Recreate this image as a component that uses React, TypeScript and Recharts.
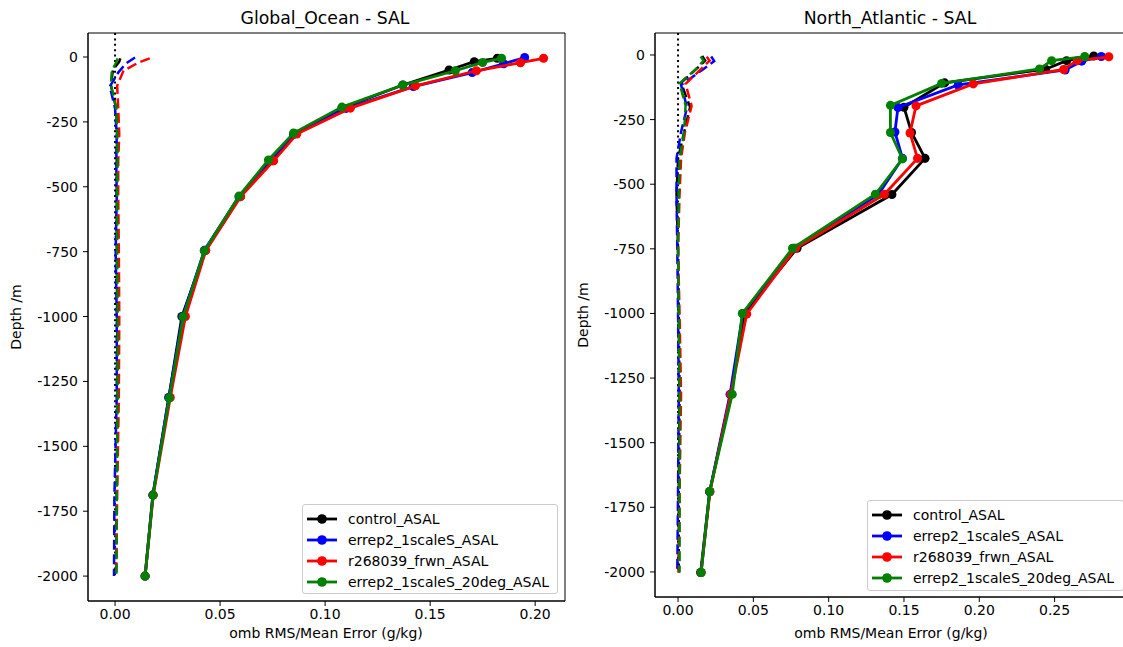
import React from 'react';
import { ScatterChart, Scatter, XAxis, YAxis, ZAxis, ReferenceLine, ReferenceArea } from 'recharts';

// ---------- labels ----------
const seriesNames = ['control_ASAL', 'errep2_1scaleS_ASAL', 'r268039_frwn_ASAL', 'errep2_1scaleS_20deg_ASAL'];
const seriesColors = ['#000000', '#0000ff', '#ff0000', '#008000'];
const depthTicks = [0, -250, -500, -750, -1000, -1250, -1500, -1750, -2000];
const goXTicks = [0, 0.05, 0.1, 0.15, 0.2];
const naXTicks = [0, 0.05, 0.1, 0.15, 0.2, 0.25];

// ---------- Global_Ocean ----------
const goDepthControl = [-5, -18, -50, -108, -197, -297, -400, -538, -745, -1000, -1312, -1688, -2000];
const goDepthErrep = [-2, -26, -60, -114, -198, -298, -400, -538, -745, -1000, -1312, -1688, -2000];
const goDepthFrwn = [-5, -22, -53, -111, -197, -297, -400, -538, -746, -1000, -1312, -1688, -2000];
const goDepth20deg = [-5, -21, -53, -108, -193, -293, -397, -536, -747, -1001, -1314, -1688, -2000];

const goRmsControl = [0.182, 0.171, 0.159, 0.137, 0.108, 0.085, 0.075, 0.0595, 0.043, 0.0318, 0.0256, 0.018, 0.0143];
const goRmsErrep = [0.195, 0.185, 0.170, 0.142, 0.110, 0.085, 0.0735, 0.059, 0.0425, 0.0322, 0.0256, 0.018, 0.0143];
const goRmsFrwn = [0.204, 0.193, 0.172, 0.143, 0.112, 0.0865, 0.0755, 0.0598, 0.0432, 0.0335, 0.0263, 0.0182, 0.0143];
const goRms20deg = [0.184, 0.175, 0.162, 0.137, 0.108, 0.085, 0.073, 0.059, 0.0425, 0.0324, 0.0258, 0.0181, 0.0143];

const goMeanControl = [0.0025, 0.002, -0.001, -0.002, 0.0005, 0.001, 0.0008, 0.0008, 0.0008, 0.001, 0.0012, 0.0008, 0.0005];
const goMeanErrep = [0.0095, 0.005, 0.0015, -0.0025, 0.0, 0.0008, 0.0006, 0.0008, 0.0003, 0.0008, 0.0008, -0.0003, -0.0005];
const goMeanFrwn = [0.0165, 0.011, 0.004, 0.001, 0.0015, 0.002, 0.0015, 0.0015, 0.0018, 0.002, 0.0018, 0.001, 0.0005];
const goMean20deg = [0.0012, 0.0005, -0.0015, -0.002, 0.0005, 0.001, 0.0012, 0.001, 0.001, 0.0012, 0.0012, 0.0008, 0.0006];

// ---------- North_Atlantic ----------
const naDepthControl = [-4, -22, -55, -108, -202, -300, -400, -540, -748, -1000, -1313, -1690, -2002];
const naDepthErrep = [-6, -24, -58, -116, -203, -298, -400, -540, -748, -1000, -1313, -1690, -2002];
const naDepthFrwn = [-7, -22, -56, -112, -197, -302, -400, -539, -748, -1002, -1313, -1689, -2002];
const naDepth20deg = [-6, -22, -54, -110, -195, -300, -402, -539, -748, -1000, -1313, -1689, -2002];

const naRmsControl = [0.276, 0.258, 0.244, 0.177, 0.150, 0.155, 0.164, 0.142, 0.079, 0.044, 0.035, 0.021, 0.015];
const naRmsErrep = [0.281, 0.268, 0.257, 0.186, 0.146, 0.144, 0.149, 0.133, 0.077, 0.043, 0.0345, 0.021, 0.0153];
const naRmsFrwn = [0.286, 0.265, 0.256, 0.196, 0.158, 0.154, 0.159, 0.137, 0.078, 0.0456, 0.035, 0.0212, 0.0153];
const naRms20deg = [0.270, 0.248, 0.240, 0.175, 0.141, 0.141, 0.149, 0.131, 0.076, 0.0427, 0.036, 0.021, 0.0153];

const naMeanControl = [0.016, 0.018, 0.012, 0.002, 0.008, 0.004, 0.0, -0.001, 0.0, 0.0005, 0.001, 0.0005, 0.0005];
const naMeanErrep = [0.022, 0.024, 0.016, 0.002, 0.006, 0.002, -0.001, -0.001, -0.0005, 0.0, 0.0005, 0.0, -0.0005];
const naMeanFrwn = [0.019, 0.021, 0.015, 0.005, 0.009, 0.0045, 0.002, 0.001, 0.0, 0.001, 0.002, 0.001, 0.0005];
const naMean20deg = [0.015, 0.017, 0.012, 0.001, 0.005, 0.004, 0.001, 0.0005, 0.0, 0.0005, 0.001, 0.001, 0.001];

const pts = (depths: number[], values: number[]) => depths.map((d, i) => ({ x: values[i], y: d }));

const goSeries = [
  { rms: pts(goDepthControl, goRmsControl), mean: pts(goDepthControl, goMeanControl) },
  { rms: pts(goDepthErrep, goRmsErrep), mean: pts(goDepthErrep, goMeanErrep) },
  { rms: pts(goDepthFrwn, goRmsFrwn), mean: pts(goDepthFrwn, goMeanFrwn) },
  { rms: pts(goDepth20deg, goRms20deg), mean: pts(goDepth20deg, goMean20deg) },
];
const naSeries = [
  { rms: pts(naDepthControl, naRmsControl), mean: pts(naDepthControl, naMeanControl) },
  { rms: pts(naDepthErrep, naRmsErrep), mean: pts(naDepthErrep, naMeanErrep) },
  { rms: pts(naDepthFrwn, naRmsFrwn), mean: pts(naDepthFrwn, naMeanFrwn) },
  { rms: pts(naDepth20deg, naRms20deg), mean: pts(naDepth20deg, naMean20deg) },
];

const FONT = 'DejaVu Sans';
const tickStyle = { fill: '#000', fontSize: 14, fontFamily: FONT };
const EmptyShape = () => <g />;

type PanelProps = {
  left: number;
  width: number;
  marginRight: number;
  yAxisWidth: number;
  xAxisHeight: number;
  xDomain: [number, number];
  yDomain: [number, number];
  xTicks: number[];
  series: { rms: { x: number; y: number }[]; mean: { x: number; y: number }[] }[];
};

function Panel(p: PanelProps) {
  return (
    <div style={{ position: 'absolute', left: p.left, top: 0 }}>
      <ScatterChart width={p.width} height={647} margin={{ top: 33, right: p.marginRight, bottom: 0, left: 0 }}>
        <XAxis
          type="number"
          dataKey="x"
          domain={p.xDomain}
          ticks={p.xTicks}
          interval={0}
          allowDataOverflow
          height={p.xAxisHeight}
          tickSize={5}
          tickMargin={3}
          tickFormatter={(v: number) => v.toFixed(2)}
          stroke="#000"
          tick={tickStyle}
        />
        <YAxis
          type="number"
          dataKey="y"
          domain={p.yDomain}
          ticks={depthTicks}
          interval={0}
          allowDataOverflow
          width={p.yAxisWidth}
          tickSize={5}
          tickMargin={5}
          tickFormatter={(v: number) => String(v)}
          stroke="#000"
          tick={tickStyle}
        />
        <ZAxis type="number" range={[80, 80]} />
        <ReferenceArea
          x1={p.xDomain[0]}
          x2={p.xDomain[1]}
          y1={p.yDomain[0]}
          y2={p.yDomain[1]}
          fill="none"
          stroke="#000"
          strokeWidth={1}
          ifOverflow="visible"
        />
        <ReferenceLine
          segment={[{ x: 0, y: p.yDomain[1] }, { x: 0, y: -2000 }]}
          stroke="#000"
          strokeWidth={2}
          strokeDasharray="2 3.4"
        />
        {p.series.map((s, i) => [
          <Scatter
            key={'r' + i}
            data={s.rms}
            fill={seriesColors[i]}
            line={{ stroke: seriesColors[i], strokeWidth: 2.8 }}
            isAnimationActive={false}
          />,
          <Scatter
            key={'m' + i}
            data={s.mean}
            fill={seriesColors[i]}
            line={{ stroke: seriesColors[i], strokeWidth: 2.5, strokeDasharray: '10 4.5' }}
            shape={EmptyShape}
            isAnimationActive={false}
          />,
        ])}
      </ScatterChart>
    </div>
  );
}

function LegendBox({ left, top, width, height }: { left: number; top: number; width: number; height: number }) {
  return (
    <div
      style={{
        position: 'absolute',
        left,
        top,
        width,
        height,
        border: '1px solid #cccccc',
        borderRadius: 3,
        background: 'rgba(255,255,255,0.8)',
        boxSizing: 'border-box',
      }}
    >
      {seriesNames.map((name, i) => (
        <div
          key={name}
          style={{
            position: 'absolute',
            left: 3,
            top: 3 + i * 21.3,
            height: 21,
            display: 'flex',
            alignItems: 'center',
          }}
        >
          <svg width={32} height={12}>
            <line x1={1} y1={6} x2={31} y2={6} stroke={seriesColors[i]} strokeWidth={2.8} />
            <circle cx={16} cy={6} r={4.8} fill={seriesColors[i]} />
          </svg>
          <span style={{ marginLeft: 10, fontSize: 14, fontFamily: FONT, color: '#000', whiteSpace: 'nowrap' }}>{name}</span>
        </div>
      ))}
    </div>
  );
}

const textBase: React.CSSProperties = { position: 'absolute', fontFamily: FONT, color: '#000', whiteSpace: 'nowrap' };

export default function App() {
  return (
    <div style={{ position: 'absolute', left: 0, top: 0, width: 1123, height: 647, overflow: 'hidden', background: '#fff' }}>
      <Panel
        left={0}
        width={575}
        marginRight={10}
        yAxisWidth={88}
        xAxisHeight={46}
        xDomain={[-0.01288, 0.2142]}
        yDomain={[-2096, 92.5]}
        xTicks={goXTicks}
        series={goSeries}
      />
      <Panel
        left={575}
        width={560}
        marginRight={6}
        yAxisWidth={80}
        xAxisHeight={50}
        xDomain={[-0.0153, 0.2994]}
        yDomain={[-2097, 85]}
        xTicks={naXTicks}
        series={naSeries}
      />
      {/* titles */}
      <div style={{ ...textBase, left: 325, top: 18, transform: 'translate(-50%, -50%)', fontSize: 17.3 }}>Global_Ocean - SAL</div>
      <div style={{ ...textBase, left: 890, top: 18, transform: 'translate(-50%, -50%)', fontSize: 17.3 }}>North_Atlantic - SAL</div>
      {/* y labels */}
      <div style={{ ...textBase, left: 16, top: 317, transform: 'translate(-50%, -50%) rotate(-90deg)', fontSize: 14 }}>Depth /m</div>
      <div style={{ ...textBase, left: 583, top: 315, transform: 'translate(-50%, -50%) rotate(-90deg)', fontSize: 14 }}>Depth /m</div>
      {/* x labels */}
      <div style={{ ...textBase, left: 326, top: 633, transform: 'translate(-50%, -50%)', fontSize: 14 }}>omb RMS/Mean Error (g/kg)</div>
      <div style={{ ...textBase, left: 891, top: 633, transform: 'translate(-50%, -50%)', fontSize: 14 }}>omb RMS/Mean Error (g/kg)</div>
      {/* legends */}
      <LegendBox left={302} top={504} width={256} height={90} />
      <LegendBox left={867} top={500} width={257} height={91} />
    </div>
  );
}
